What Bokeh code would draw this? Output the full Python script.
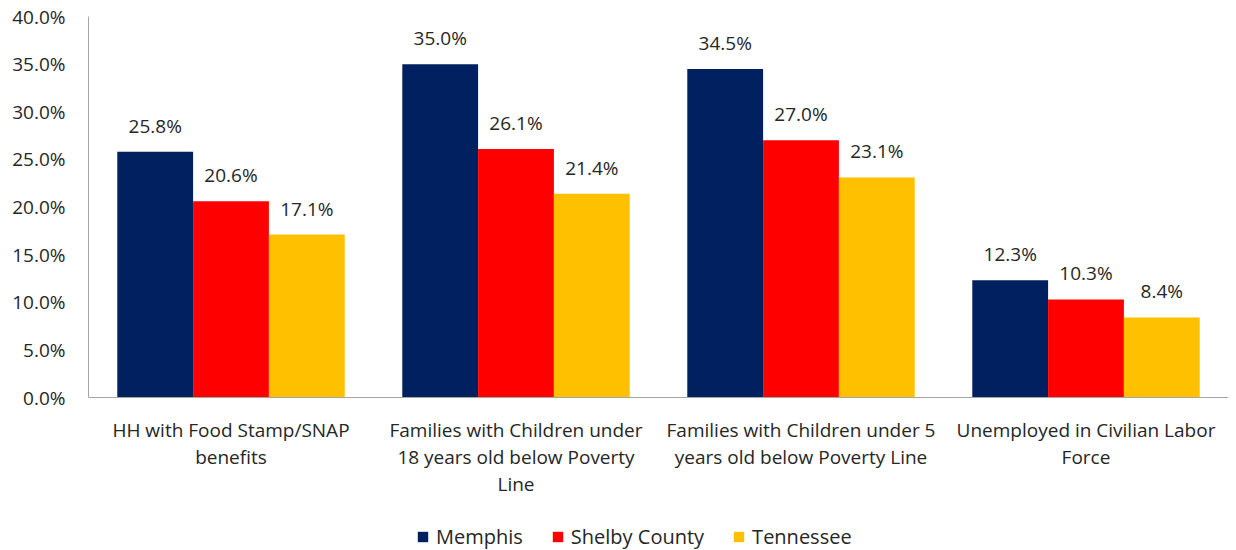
from bokeh.plotting import figure
from bokeh.layouts import column
from bokeh.models import (ColumnDataSource, FixedTicker, Legend, LegendItem, NumeralTickFormatter,
                          Range1d)
from bokeh.core.properties import value
from bokeh.embed import file_html
from bokeh.resources import INLINE

categories = [
    "HH with Food Stamp/SNAP\nbenefits",
    "Families with Children under\n18 years old below Poverty\nLine",
    "Families with Children under 5\nyears old below Poverty Line",
    "Unemployed in Civilian Labor\nForce",
]
series = ["Memphis", "Shelby County", "Tennessee"]
memphis = [25.8, 35.0, 34.5, 12.3]
shelby = [20.6, 26.1, 27.0, 10.3]
tennessee = [17.1, 21.4, 23.1, 8.4]
colors = ["#002060", "#FF0000", "#FFC000"]
y_ticks = [0, 5, 10, 15, 20, 25, 30, 35, 40]

FONT = "Open Sans"
bar_w = 0.266
offsets = [-bar_w, 0.0, bar_w]

p = figure(width=1228, height=524, output_backend="svg", toolbar_location=None,
           x_range=Range1d(0, 4), y_range=Range1d(0, 40),
           min_border_left=88, min_border_right=0, min_border_top=16, min_border_bottom=127)
p.outline_line_color = None
p.xgrid.grid_line_color = None
p.ygrid.grid_line_color = None

sources = []
for vals, col, off in zip([memphis, shelby, tennessee], colors, offsets):
    xs = [i + 0.5 + off for i in range(len(categories))]
    src = ColumnDataSource(dict(x=xs, top=vals, lab=["%.1f%%" % v for v in vals]))
    sources.append(src)
    p.vbar(x="x", top="top", width=bar_w, bottom=0, source=src, fill_color=col, line_color=None)
    p.text(x="x", y="top", text="lab", source=src, text_align="center", text_baseline="bottom",
           y_offset=-13, text_font=value(FONT), text_font_size="19px", text_color="#262626")

p.yaxis.ticker = FixedTicker(ticks=y_ticks)
p.yaxis.formatter = NumeralTickFormatter(format="0.0")
p.yaxis.major_label_overrides = {t: "%.1f%%" % t for t in y_ticks}
p.yaxis.major_tick_line_color = None
p.yaxis.minor_tick_line_color = None
p.yaxis.axis_line_color = "#A6A6A6"
p.yaxis.major_label_text_font = FONT
p.yaxis.major_label_text_font_size = "19px"
p.yaxis.major_label_text_color = "#262626"
p.yaxis.major_label_standoff = 17

p.xaxis.ticker = FixedTicker(ticks=[i + 0.5 for i in range(len(categories))])
p.xaxis.major_label_overrides = {i + 0.5: c for i, c in enumerate(categories)}
p.xaxis.major_tick_line_color = None
p.xaxis.minor_tick_line_color = None
p.xaxis.axis_line_color = "#A6A6A6"
p.xaxis.major_label_text_font = FONT
p.xaxis.major_label_text_font_size = "19px"
p.xaxis.major_label_text_color = "#262626"
p.xaxis.major_label_standoff = 13
p.xaxis.major_label_text_line_height = 1.05

# legend strip below the chart (frame aligned with the chart's frame);
# its bar renderers lie outside this strip's ranges, so only the legend shows
lg = figure(width=1228, height=26, output_backend="svg", toolbar_location=None,
            x_range=Range1d(-100, -99), y_range=Range1d(-100, -99),
            min_border_left=88, min_border_right=0, min_border_top=0, min_border_bottom=0)
lg.axis.visible = False
lg.grid.visible = False
lg.outline_line_color = None
items = []
for name, col, src in zip(series, colors, sources):
    r = lg.vbar(x="x", top="top", width=bar_w, bottom=0, source=src,
                fill_color=col, line_color=None)
    items.append(LegendItem(label=name, renderers=[r]))
legend = Legend(items=items, orientation="horizontal", location=(328, 0),
                label_text_font=FONT, label_text_font_size="20px", label_text_color="#262626",
                glyph_width=13, glyph_height=13, spacing=28, label_standoff=7,
                border_line_color=None, background_fill_alpha=0, margin=0, padding=0)
lg.add_layout(legend, "center")

layout = column(p, lg, spacing=0)
open("out.html", "w").write(file_html(layout, INLINE))
